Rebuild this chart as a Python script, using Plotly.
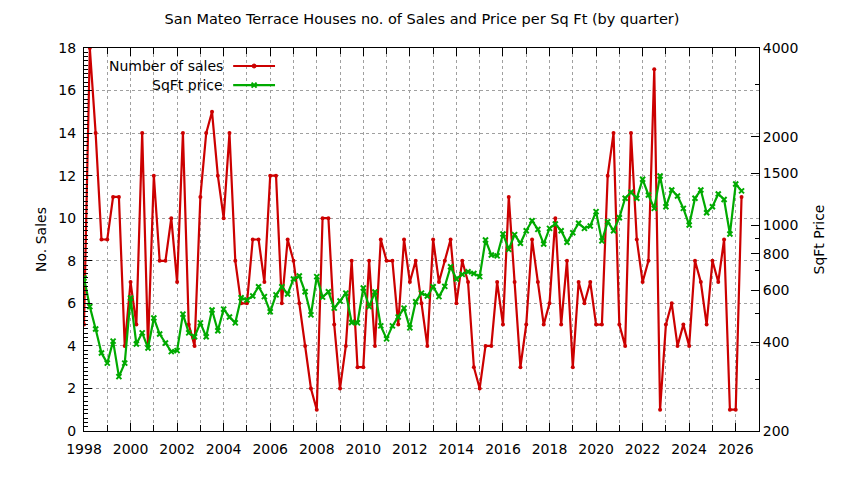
import plotly.graph_objects as go

# quarterly data, first quarter is 1998 Q1
start_year = 1998

sales = [5, 18, 14, 9,  9, 11, 11, 4,  7, 5, 14, 4,  12, 8, 8, 10,
         7, 14, 5, 4,  11, 14, 15, 12,  10, 14, 8, 6,  6, 9, 9, 7,
         12, 12, 6, 9,  8, 6, 4, 2,  1, 10, 10, 5,  2, 4, 8, 3,
         3, 8, 4, 9,  8, 8, 5, 9,  7, 8, 6, 4,  9, 7, 8, 9,
         6, 8, 7, 3,  2, 4, 4, 7,  5, 11, 7, 3,  5, 9, 7, 5,
         6, 10, 5, 8,  3, 7, 6, 7,  5, 5, 12, 14,  5, 4, 14, 9,
         7, 8, 17, 1,  5, 6, 4, 5,  4, 8, 7, 5,  8, 7, 9, 1,
         1, 11]

sqft_price = [662, 529, 444, 368,  340, 404, 306, 340,  566, 395, 431, 383,
              484, 427, 398, 372,  375, 499, 431, 418,  466, 418, 515, 438,
              519, 488, 466, 567,  557, 575, 618, 572,  508, 580, 618, 584,
              657, 672, 594, 496,  669, 570, 594, 523,  553, 588, 467, 466,
              612, 529, 593, 455,  411, 455, 488, 523,  448, 550, 588, 575,
              618, 572, 620, 723,  657, 681, 695, 686,  669, 891, 792, 787,
              934, 828, 929, 868,  958, 1036, 968, 864,  976, 1010, 958, 875,
              943, 1015, 976, 994,  1112, 885, 1028, 958,  1061, 1235, 1294, 1235,
              1432, 1267, 1141, 1469,  1156, 1317, 1257, 1141,  1002, 1235, 1317, 1103,
              1156, 1277, 1223, 934,  1380, 1308]

quarters = [start_year + i / 4 for i in range(len(sales))]

price_ticks = [200, 400, 600, 800, 1000, 1500, 2000, 4000]
price_minor = [300, 500, 700, 900, 3000]

RED = "#cc0000"
GREEN = "#00aa00"
FONT = "DejaVu Sans"
FS = 14

# page body has an 8px margin, so the figure is drawn 8px smaller
W, H = 836, 472

fig = go.Figure()
fig.add_trace(go.Scatter(
    x=quarters, y=sales, name="Number of sales", mode="lines+markers",
    line=dict(color=RED, width=2.2),
    marker=dict(symbol="circle", size=4, color=RED),
    showlegend=False,
))
fig.add_trace(go.Scatter(
    x=quarters, y=sqft_price, name="SqFt price", mode="lines+markers", yaxis="y2",
    line=dict(color=GREEN, width=2.2),
    marker=dict(symbol="x-thin", size=5, color=GREEN, line=dict(color=GREEN, width=2)),
    showlegend=False,
))

# gnuplot style key: text right aligned, sample line on the right
px_x = 1 / 675
px_y = 1 / 383
shapes = [dict(type="rect", xref="paper", yref="paper", x0=0.002, x1=0.295, y0=0.872, y1=0.998,
               fillcolor="white", line=dict(width=0), layer="between")]
annotations = []
key = [("Number of sales", RED, 0.953, "dot"), ("SqFt price", GREEN, 0.903, "x")]
for label, col, ky, mk in key:
    annotations.append(dict(text=label, x=0.209, y=ky, xref="paper", yref="paper",
                            xanchor="right", yanchor="middle", showarrow=False,
                            font=dict(family=FONT, size=FS, color="black")))
    shapes.append(dict(type="line", xref="paper", yref="paper", x0=0.221, x1=0.283, y0=ky, y1=ky,
                       line=dict(color=col, width=2.2), layer="above"))
    cx = 0.252
    if mk == "dot":
        shapes.append(dict(type="circle", xref="paper", yref="paper", x0=cx - 2 * px_x, x1=cx + 2 * px_x,
                           y0=ky - 2 * px_y, y1=ky + 2 * px_y, fillcolor=col, line=dict(color=col, width=1)))
    else:
        shapes.append(dict(type="line", xref="paper", yref="paper", x0=cx - 2.5 * px_x, x1=cx + 2.5 * px_x,
                           y0=ky - 2.5 * px_y, y1=ky + 2.5 * px_y, line=dict(color=col, width=2)))
        shapes.append(dict(type="line", xref="paper", yref="paper", x0=cx - 2.5 * px_x, x1=cx + 2.5 * px_x,
                           y0=ky + 2.5 * px_y, y1=ky - 2.5 * px_y, line=dict(color=col, width=2)))

fig.update_layout(
    width=W, height=H,
    margin=dict(l=76, r=85, t=40, b=49, autoexpand=False),
    paper_bgcolor="white", plot_bgcolor="white",
    font=dict(family=FONT, size=FS, color="black"),
    title=dict(text="San Mateo Terrace Houses no. of Sales and Price per Sq Ft (by quarter)",
               x=0.5 - 4 / W, xanchor="center", y=1 - 11 / H, yanchor="middle", automargin=False,
               font=dict(family=FONT, size=14.5)),
    xaxis=dict(range=[1998, 2027], dtick=2, tick0=1998, ticks="inside", ticklen=8,
               tickcolor="black", showline=True, linecolor="black", linewidth=1,
               mirror="ticks", showgrid=True, gridcolor="#a0a0a0", griddash="dot", gridwidth=1,
               minor=dict(dtick=1, ticks="inside", ticklen=6, tickcolor="black",
                          showgrid=True, gridcolor="#a0a0a0", griddash="dot"),
               zeroline=False, automargin=False, ticklabelstandoff=5),
    yaxis=dict(range=[0, 18], dtick=2, ticks="inside", ticklen=8, tickcolor="black",
               showline=True, linecolor="black", linewidth=1, mirror=False,
               showgrid=True, gridcolor="#a0a0a0", griddash="dot", gridwidth=1,
               minor=dict(dtick=0.2, ticks="inside", ticklen=4, tickcolor="black"),
               zeroline=False, automargin=False, ticklabelstandoff=4,
               title=dict(text="No. Sales", standoff=8, font=dict(family=FONT, size=FS))),
    yaxis2=dict(type="log", overlaying="y", side="right",
                range=[2.30103, 3.60206], tickmode="array", tickvals=price_ticks,
                ticktext=[str(v) for v in price_ticks],
                ticks="inside", ticklen=8, tickcolor="black",
                minor=dict(tickmode="array", tickvals=price_minor, ticks="inside", ticklen=4,
                           tickcolor="black"),
                showline=True, linecolor="black", linewidth=1, showgrid=False, zeroline=False,
                automargin=False,
                title=dict(text="SqFt Price", standoff=16, font=dict(family=FONT, size=FS))),
    shapes=shapes,
    annotations=annotations,
)

fig.write_html("out.html")
